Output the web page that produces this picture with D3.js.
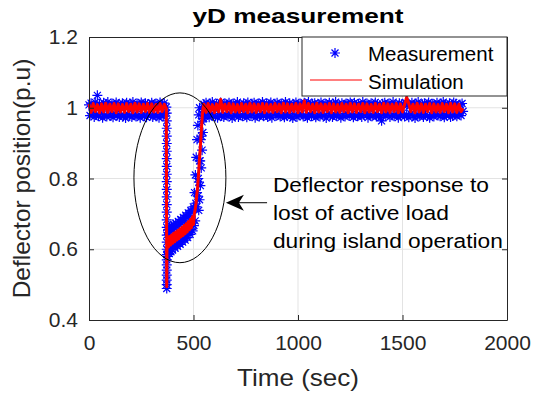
<!DOCTYPE html>
<meta charset="utf-8">
<style>
    body { margin: 0; background: #fff; }
    svg { font-family: "Liberation Sans", Arial, sans-serif; }
    .grid line { stroke: #e3e3e3; stroke-width: 1; }
    .axis path, .axis line { stroke: #262626; }
    .axis text { fill: #262626; font-size: 21px; font-family: "Liberation Sans", Arial, sans-serif; }
</style>

<svg width="537" height="395"></svg>

<script src="https://d3js.org/d3.v7.min.js"></script>

<script>
// axis ticks
var xTicks = [0, 500, 1000, 1500, 2000];
var yTicks = [0.4, 0.6, 0.8, 1.0, 1.2];
var yTickLabels = ["0.4", "0.6", "0.8", "1", "1.2"];

// measurement, steady part before the event (t = 0..370 s, every 5 s)
var measStep = 5;
var measPreStart = 0;
var measPre = [1.008, 0.978, 1.013, 0.983, 1.004, 0.974, 1.015, 0.98, 1.035, 0.976,
    1.011, 0.985, 1.006, 0.972, 1.014, 0.979, 1.009, 0.975, 1.016, 0.982,
    1.003, 0.977, 1.012, 0.973, 1.007, 0.984, 1.015, 0.978, 1.01, 0.974,
    1.005, 0.981, 1.013, 0.976, 1.008, 0.971, 1.014, 0.983, 1.006, 0.977,
    1.011, 0.974, 1.016, 0.98, 1.004, 0.975, 1.012, 0.979, 1.009, 0.972,
    1.015, 0.982, 1.007, 0.976, 1.013, 0.973, 1.01, 0.985, 1.005, 0.978,
    1.014, 0.974, 1.008, 0.981, 1.012, 0.976, 1.006, 0.972, 1.015, 0.98,
    1.009, 0.977, 1.013, 0.984, 1.002];

// measurement, fast drop when the load is lost
var measDropTime = 372;
var measDrop = [0.985, 0.963, 0.942, 0.92, 0.899, 0.877, 0.856, 0.834, 0.812, 0.791,
    0.769, 0.748, 0.726, 0.705, 0.683, 0.662, 0.64, 0.62, 0.6, 0.585,
    0.57, 0.556, 0.541, 0.527, 0.513, 0.5, 0.489];

// measurement, recovery [time, value]
var measRecovery = [[376, 0.58], [378, 0.655], [380, 0.595], [382, 0.642], [384, 0.588],
    [386, 0.66], [388, 0.602], [390, 0.65], [392, 0.593], [394, 0.665], [396, 0.608],
    [398, 0.655], [400, 0.598], [403, 0.67], [406, 0.612], [409, 0.66], [412, 0.603],
    [415, 0.674], [418, 0.617], [421, 0.665], [424, 0.608], [427, 0.679], [430, 0.622],
    [433, 0.67], [436, 0.614], [439, 0.684], [442, 0.627], [445, 0.676], [448, 0.62],
    [451, 0.69], [454, 0.633], [457, 0.682], [460, 0.626], [463, 0.696], [466, 0.64],
    [469, 0.689], [472, 0.633], [475, 0.703], [478, 0.647], [481, 0.696], [484, 0.642],
    [487, 0.71], [490, 0.656], [493, 0.705], [496, 0.652], [499, 0.72], [502, 0.667],
    [505, 0.714], [508, 0.68], [511, 0.73], [514, 0.72], [517, 0.76], [520, 0.75],
    [523, 0.8], [526, 0.79], [529, 0.85], [532, 0.85], [535, 0.91], [538, 0.92],
    [541, 0.96], [544, 0.97], [547, 0.995],
    [505, 0.76], [509, 0.81], [513, 0.86], [517, 0.91], [521, 0.95], [525, 0.98], [529, 1.0],
    [525, 0.71], [529, 0.74], [533, 0.78], [537, 0.83], [541, 0.88], [545, 0.93], [549, 0.97], [553, 0.99]];

// measurement, steady part after recovery (t = 550..1790 s, every 5 s)
var measPostStart = 550;
var measPost = [1.01, 0.976, 1.014, 0.981, 1.006, 0.973, 1.012, 0.979, 1.016, 0.984,
    1.004, 0.975, 1.011, 0.972, 1.008, 0.982, 1.015, 0.977, 1.007, 0.974,
    1.013, 0.98, 1.005, 0.976, 1.014, 0.983, 1.009, 0.971, 1.012, 0.978,
    1.006, 0.985, 1.016, 0.974, 1.01, 0.979, 1.003, 0.976, 1.013, 0.982,
    1.008, 0.973, 1.015, 0.98, 1.005, 0.977, 1.011, 0.984, 1.014, 0.972,
    1.007, 0.978, 1.012, 0.975, 1.009, 0.983, 1.016, 0.976, 1.004, 0.981,
    1.013, 0.974, 1.008, 0.979, 1.015, 0.972, 1.006, 0.985, 1.011, 0.977,
    1.014, 0.98, 1.005, 0.975, 1.012, 0.982, 1.009, 0.973, 1.016, 0.978,
    1.007, 0.984, 1.013, 0.976, 1.004, 0.971, 1.01, 0.98, 1.015, 0.974,
    1.008, 0.979, 1.012, 0.983, 1.006, 0.975, 1.014, 0.977, 1.009, 0.972,
    1.016, 0.981, 1.005, 0.976, 1.011, 0.984, 1.013, 0.973, 1.007, 0.979,
    1.01, 0.975, 1.015, 0.982, 1.004, 0.977, 1.012, 0.971, 1.008, 0.985,
    1.014, 0.978, 1.006, 0.974, 1.011, 0.98, 1.016, 0.976, 1.009, 0.983,
    1.005, 0.972, 1.013, 0.979, 1.007, 0.975, 1.012, 0.984, 1.01, 0.977,
    1.015, 0.981, 1.004, 0.973, 1.014, 0.978, 1.008, 0.976, 1.011, 0.982,
    1.006, 0.974, 1.016, 0.98, 1.009, 0.985, 1.012, 0.972, 1.005, 0.979,
    1.013, 0.976, 1.007, 0.983, 1.015, 0.975, 1.01, 0.978, 1.004, 0.973,
    0.963, 1.011, 0.981, 1.014, 0.977, 1.008, 0.984, 1.012, 0.974, 1.006,
    0.979, 1.016, 0.976, 1.009, 0.982, 1.005, 0.972, 1.013, 0.978, 1.01,
    0.985, 1.007, 0.975, 1.015, 0.98, 1.011, 0.973, 1.004, 0.983, 1.014,
    0.977, 1.008, 0.971, 1.012, 0.979, 1.016, 0.976, 1.006, 0.984, 1.01,
    0.974, 1.013, 0.981, 1.005, 0.977, 1.015, 0.972, 1.009, 0.98, 1.011,
    0.975, 1.007, 0.983, 1.014, 0.978, 1.004, 0.976, 1.012, 0.982, 1.016,
    0.973, 1.01, 0.979, 1.006, 0.985, 1.013, 0.974, 1.008, 0.977, 1.015,
    0.981, 1.011, 0.976, 1.005, 0.983, 1.009, 0.978, 1.012, 0.99];

// simulation (t every 10 s in the steady parts)
var simStep = 10;
var simPreStart = 0;
var simPre = [1.01, 0.987, 1.012, 0.989, 1.009, 0.986, 1.011, 0.988, 1.013, 0.987,
    1.01, 0.989, 1.012, 0.986, 1.011, 0.988, 1.009, 0.987, 1.012, 0.989,
    1.01, 0.986, 1.013, 0.988, 1.011, 0.987, 1.01, 0.989, 1.012, 0.986,
    1.011, 0.988, 1.009, 0.987, 1.012, 0.989, 1.01, 0.998];
var simEventTime = [372, 373, 376, 380, 385, 390, 395, 400, 405, 410,
    415, 420, 425, 430, 435, 440, 445, 450, 455, 460,
    465, 470, 475, 480, 485, 490, 495, 500, 504, 508,
    512, 516, 519, 522, 525, 528, 531, 534, 537, 540, 543, 546];
var simEvent = [0.494, 0.6, 0.63, 0.606, 0.636, 0.612, 0.64, 0.617, 0.645, 0.621,
    0.649, 0.626, 0.653, 0.63, 0.658, 0.635, 0.662, 0.639, 0.667, 0.644,
    0.672, 0.649, 0.678, 0.655, 0.684, 0.661, 0.692, 0.67, 0.7, 0.712,
    0.73, 0.755, 0.77, 0.795, 0.82, 0.85, 0.875, 0.9, 0.93, 0.96, 0.985, 1.0];
var simPostStart = 550;
var simPost = [1.01, 0.987, 1.012, 0.989, 1.009, 0.986, 1.011, 0.988, 1.024, 0.987,
    1.01, 0.989, 1.012, 0.986, 1.011, 0.988, 1.009, 0.987, 1.012, 0.989,
    1.01, 0.986, 1.013, 0.988, 1.011, 0.987, 1.01, 0.989, 1.012, 0.986,
    1.011, 0.988, 1.009, 0.987, 1.012, 0.989, 1.01, 0.986, 1.013, 0.988,
    1.011, 0.987, 1.01, 0.989, 1.012, 0.986, 1.011, 0.988, 1.02, 0.987,
    1.012, 0.989, 1.01, 0.986, 1.013, 0.988, 1.011, 0.987, 1.01, 0.989,
    1.012, 0.986, 1.011, 0.988, 1.009, 0.987, 1.012, 0.989, 1.01, 0.986,
    1.013, 0.988, 1.011, 0.987, 1.01, 0.989, 1.012, 0.986, 1.011, 0.988,
    1.009, 0.987, 1.012, 0.989, 1.01, 0.986, 1.013, 0.988, 1.011, 0.987,
    1.01, 0.989, 1.012, 0.986, 1.011, 0.988, 1.009, 1.03, 1.012, 0.989,
    1.01, 0.986, 1.013, 0.988, 1.011, 0.987, 1.01, 0.989, 1.012, 0.986,
    1.011, 0.988, 1.009, 0.987, 1.012, 0.989, 1.01, 0.986, 1.013, 0.988,
    1.011, 0.987, 1.01, 0.989, 0.998];

// annotation (data coordinates)
var ellipseCenter = [435, 0.802], ellipseRadius = [220, 0.24];
var arrowFrom = [852, 0.7315], arrowTo = [655, 0.7315];
var noteAt = [880, 0.762];
var noteLines = ["Deflector response to", "lost of active load", "during island operation"];

var measurement = [].concat(
    measPre.map(function(v, i) { return [measPreStart + i * measStep, v]; }),
    measDrop.map(function(v) { return [measDropTime, v]; }),
    measRecovery,
    measPost.map(function(v, i) { return [measPostStart + i * measStep, v]; })
);
var simulation = [].concat(
    simPre.map(function(v, i) { return [simPreStart + i * simStep, v]; }),
    simEventTime.map(function(t, i) { return [t, simEvent[i]]; }),
    simPost.map(function(v, i) { return [simPostStart + i * simStep, v]; })
);

var svg = d3.select("svg");
var margin = { left: 89, right: 30, top: 37, bottom: 75 };
var width = 537 - margin.left - margin.right,
    height = 395 - margin.top - margin.bottom;

var x = d3.scaleLinear().domain([0, 2000]).range([0, width]);
var y = d3.scaleLinear().domain([0.4, 1.2]).range([height, 0]);

var g = svg.append("g").attr("transform", "translate(" + margin.left + "," + margin.top + ")");

// grid
var grid = g.append("g").attr("class", "grid");
grid.selectAll(".gx").data(xTicks.slice(1, -1)).enter().append("line")
    .attr("x1", x).attr("x2", x).attr("y1", 0).attr("y2", height);
grid.selectAll(".gy").data(yTicks.slice(1, -1)).enter().append("line")
    .attr("y1", y).attr("y2", y).attr("x1", 0).attr("x2", width);

// measurement asterisks
var star = "M-5,0H5M0,-5V5M-3.5,-3.5L3.5,3.5M-3.5,3.5L3.5,-3.5";
g.append("g").selectAll("path").data(measurement).enter().append("path")
    .attr("d", star)
    .attr("transform", function(d) { return "translate(" + x(d[0]) + "," + y(d[1]) + ")"; })
    .attr("stroke", "#0000ff").attr("stroke-width", 1.2).attr("fill", "none");

// simulation line
var line = d3.line().x(function(d) { return x(d[0]); }).y(function(d) { return y(d[1]); });
g.append("path").datum(simulation)
    .attr("d", line)
    .attr("fill", "none").attr("stroke", "#ff0000").attr("stroke-width", 3)
    .attr("stroke-linejoin", "round");

// axes, box style
var yLabelOf = function(d) { return yTickLabels[yTicks.indexOf(d)]; };
g.append("g").attr("class", "axis").attr("transform", "translate(0," + height + ")")
    .call(d3.axisBottom(x).tickValues(xTicks).tickFormat(d3.format("d")).tickSize(-5).tickSizeOuter(0).tickPadding(15));
g.append("g").attr("class", "axis")
    .call(d3.axisLeft(y).tickValues(yTicks).tickFormat(yLabelOf).tickSize(-5).tickSizeOuter(0).tickPadding(11));
g.append("g").attr("class", "axis")
    .call(d3.axisTop(x).tickValues(xTicks).tickFormat("").tickSize(-5).tickSizeOuter(0));
g.append("g").attr("class", "axis").attr("transform", "translate(" + width + ",0)")
    .call(d3.axisRight(y).tickValues(yTicks).tickFormat("").tickSize(-5).tickSizeOuter(0));

// ellipse + arrow + note
g.append("ellipse")
    .attr("cx", x(ellipseCenter[0])).attr("cy", y(ellipseCenter[1]))
    .attr("rx", x(ellipseCenter[0] + ellipseRadius[0]) - x(ellipseCenter[0]))
    .attr("ry", y(ellipseCenter[1] - ellipseRadius[1]) - y(ellipseCenter[1]))
    .attr("fill", "none").attr("stroke", "#000").attr("stroke-width", 1);

var ax0 = x(arrowFrom[0]), ay = y(arrowFrom[1]), ax1 = x(arrowTo[0]);
g.append("line").attr("x1", ax0).attr("y1", ay).attr("x2", ax1 + 10).attr("y2", ay)
    .attr("stroke", "#000").attr("stroke-width", 1);
g.append("path")
    .attr("d", "M" + ax1 + "," + ay + "L" + (ax1 + 18) + "," + (ay - 8) + "L" + (ax1 + 13) + "," + ay +
        "L" + (ax1 + 18) + "," + (ay + 8) + "Z")
    .attr("fill", "#000");

var noteLen = [216, 176, 230];
g.append("g").selectAll("text").data(noteLines).enter().append("text")
    .attr("x", x(noteAt[0]))
    .attr("y", function(d, i) { return y(noteAt[1]) + i * 28; })
    .attr("font-size", 20.5).attr("fill", "#000")
    .attr("textLength", function(d, i) { return noteLen[i]; })
    .attr("lengthAdjust", "spacingAndGlyphs")
    .text(function(d) { return d; });

// legend
var leg = g.append("g").attr("transform", "translate(" + (width - 205) + ",0)");
leg.append("rect").attr("width", 205).attr("height", 59)
    .attr("fill", "#fff").attr("stroke", "#262626").attr("stroke-width", 1);
leg.append("path").attr("d", star).attr("transform", "translate(33,16)")
    .attr("stroke", "#0000ff").attr("stroke-width", 1.2).attr("fill", "none");
leg.append("line").attr("x1", 8).attr("x2", 60).attr("y1", 43).attr("y2", 43)
    .attr("stroke", "#ff0000").attr("stroke-width", 1);
leg.append("text").attr("x", 66).attr("y", 24).attr("font-size", 20.5).attr("fill", "#000").text("Measurement");
leg.append("text").attr("x", 66).attr("y", 52).attr("font-size", 20.5).attr("fill", "#000").text("Simulation");

// title and axis labels
svg.append("text").attr("x", margin.left + width / 2).attr("y", 23)
    .attr("text-anchor", "middle").attr("font-size", 21).attr("font-weight", "bold")
    .attr("textLength", 211).attr("lengthAdjust", "spacingAndGlyphs")
    .text("yD measurement");
svg.append("text").attr("x", margin.left + width / 2).attr("y", 386)
    .attr("text-anchor", "middle").attr("font-size", 24).attr("fill", "#262626")
    .attr("textLength", 122).attr("lengthAdjust", "spacingAndGlyphs")
    .text("Time (sec)");
svg.append("text").attr("transform", "translate(30," + (margin.top + height / 2) + ") rotate(-90)")
    .attr("text-anchor", "middle").attr("font-size", 24.5).attr("fill", "#262626")
    .text("Deflector position(p.u)");
</script>
